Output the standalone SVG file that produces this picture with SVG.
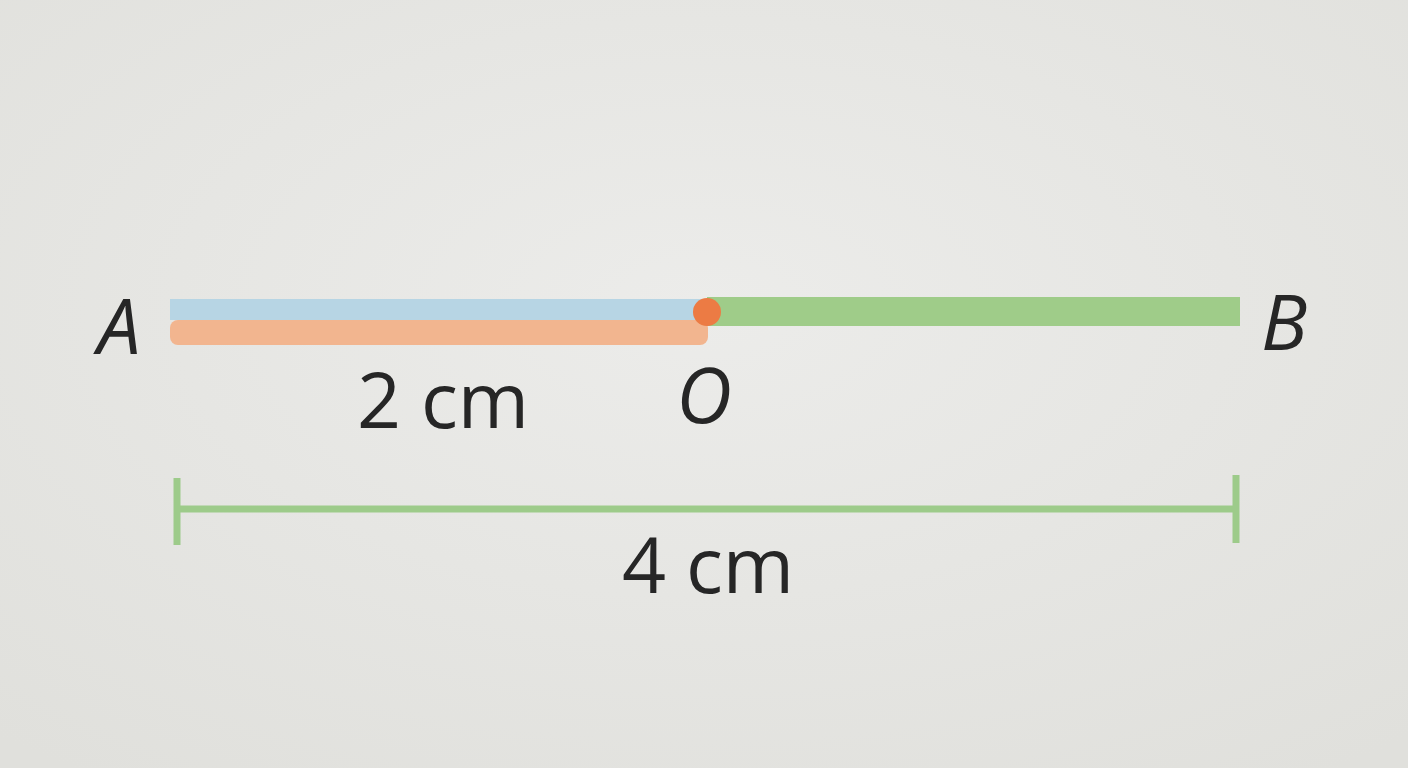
<svg xmlns="http://www.w3.org/2000/svg" width="1408" height="768" viewBox="0 0 1408 768">
  <defs>
    <radialGradient id="bg" cx="0.5" cy="0.4" r="0.75">
      <stop offset="0" stop-color="#ececea"/>
      <stop offset="1" stop-color="#e0e0dc"/>
    </radialGradient>
    <style>
      .lbl { font-family: "Open Sans", "Liberation Sans", sans-serif; font-size: 77px; fill: #262626; }
      .pt { font-style: italic; }
      .dim { stroke: #9dcb8a; stroke-width: 7; fill: none; }
    </style>
  </defs>
  <rect x="0" y="0" width="1408" height="768" fill="url(#bg)"/>
  <g id="segment">
    <rect x="707" y="297" width="533" height="29" fill="#9fcc89"/>
    <rect x="170" y="299" width="537" height="21" fill="#b7d5e4"/>
    <path d="M178 320 H700 A8 8 0 0 1 708 328 V337 A8 8 0 0 1 700 345 H178 A8 8 0 0 1 170 337 V328 A8 8 0 0 1 178 320 Z" fill="#f2b58f"/>
  </g>
  <g id="point-O">
    <circle cx="707" cy="312" r="14" fill="#ec7b44"/>
    <text class="lbl pt" x="704" y="423" text-anchor="middle">O</text>
  </g>
  <g id="point-A">
    <text class="lbl pt" x="119" y="354" text-anchor="middle">A</text>
  </g>
  <g id="point-B">
    <text class="lbl pt" x="1284" y="350" text-anchor="middle">B</text>
  </g>
  <g id="label-2cm">
    <text class="lbl" x="443" y="428" text-anchor="middle">2 cm</text>
  </g>
  <g id="connectors">
    <line class="dim" x1="177" y1="509" x2="1236" y2="509"/>
    <line class="dim" x1="177" y1="478" x2="177" y2="545"/>
    <line class="dim" x1="1236" y1="475" x2="1236" y2="543"/>
  </g>
  <g id="label-4cm">
    <text class="lbl" x="708" y="593" text-anchor="middle">4 cm</text>
  </g>
</svg>
